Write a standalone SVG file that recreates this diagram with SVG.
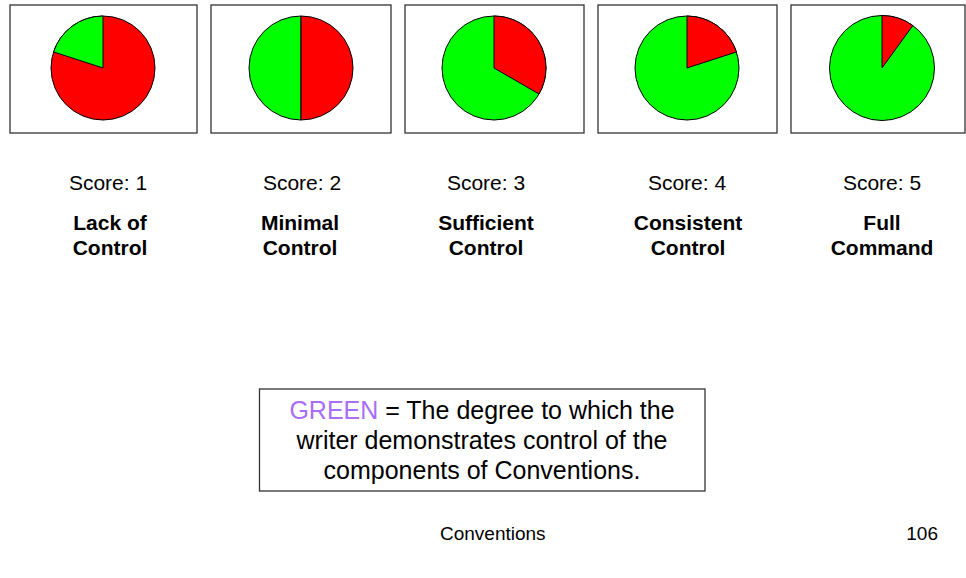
<svg xmlns="http://www.w3.org/2000/svg" width="966" height="578" viewBox="0 0 966 578">
<style>
.frame{fill:#fff;stroke:#333;stroke-width:1.3}
.red{fill:#ff0000;stroke:#000;stroke-width:1}
.green{fill:#00ff00;stroke:#000;stroke-width:1}
.score{font-family:"Liberation Sans",Arial,sans-serif;font-size:21px;fill:#000;text-anchor:middle}
.label{font-family:"Liberation Sans",Arial,sans-serif;font-size:21px;font-weight:bold;fill:#000;text-anchor:middle}
.legend{font-family:"Liberation Sans",Arial,sans-serif;font-size:25px;fill:#000;text-anchor:middle}
.foot{font-family:"Liberation Sans",Arial,sans-serif;font-size:19px;fill:#000}
</style>
<rect width="966" height="578" fill="#fff"/>
<g id="score1">
<rect class="frame" x="10" y="5" width="187" height="128"/>
<circle class="red" cx="103" cy="68" r="52"/>
<path class="green" d="M103,68 L103,16 A52,52 0 0 0 53.55,51.93 Z"/>
<text class="score" x="108" y="190">Score: 1</text>
<text class="label" x="110" y="230">Lack of</text>
<text class="label" x="110" y="255">Control</text>
</g>
<g id="score2">
<rect class="frame" x="211" y="5" width="180" height="128"/>
<path class="green" d="M301,16 A52,52 0 0 0 301,120 Z"/>
<path class="red" d="M301,16 A52,52 0 0 1 301,120 Z"/>
<text class="score" x="302" y="190">Score: 2</text>
<text class="label" x="300" y="230">Minimal</text>
<text class="label" x="300" y="255">Control</text>
</g>
<g id="score3">
<rect class="frame" x="405" y="5" width="179" height="128"/>
<circle class="green" cx="494" cy="68" r="52"/>
<path class="red" d="M494,68 L494,16 A52,52 0 0 1 539.03,94 Z"/>
<text class="score" x="486" y="190">Score: 3</text>
<text class="label" x="486" y="230">Sufficient</text>
<text class="label" x="486" y="255">Control</text>
</g>
<g id="score4">
<rect class="frame" x="598" y="5" width="179" height="128"/>
<circle class="green" cx="687" cy="68" r="52"/>
<path class="red" d="M687,68 L687,16 A52,52 0 0 1 736.45,51.93 Z"/>
<text class="score" x="687" y="190">Score: 4</text>
<text class="label" x="688" y="230">Consistent</text>
<text class="label" x="688" y="255">Control</text>
</g>
<g id="score5">
<rect class="frame" x="791" y="5" width="174" height="128"/>
<circle class="green" cx="882" cy="68" r="52.5"/>
<path class="red" d="M882,68 L882,15.5 A52.5,52.5 0 0 1 912.86,25.53 Z"/>
<text class="score" x="882" y="190">Score: 5</text>
<text class="label" x="882" y="230">Full</text>
<text class="label" x="882" y="255">Command</text>
</g>
<g id="legend">
<rect class="frame" x="259.5" y="389" width="445.5" height="102"/>
<text class="legend" x="482" y="419"><tspan fill="#a96ef7">GREEN</tspan> = The degree to which the</text>
<text class="legend" x="482" y="449">writer demonstrates control of the</text>
<text class="legend" x="482" y="479">components of Conventions.</text>
</g>
<g id="footer">
<text class="foot" x="440" y="540">Conventions</text>
<text class="foot" x="938" y="540" text-anchor="end">106</text>
</g>
<g id="connectors"></g>
</svg>
